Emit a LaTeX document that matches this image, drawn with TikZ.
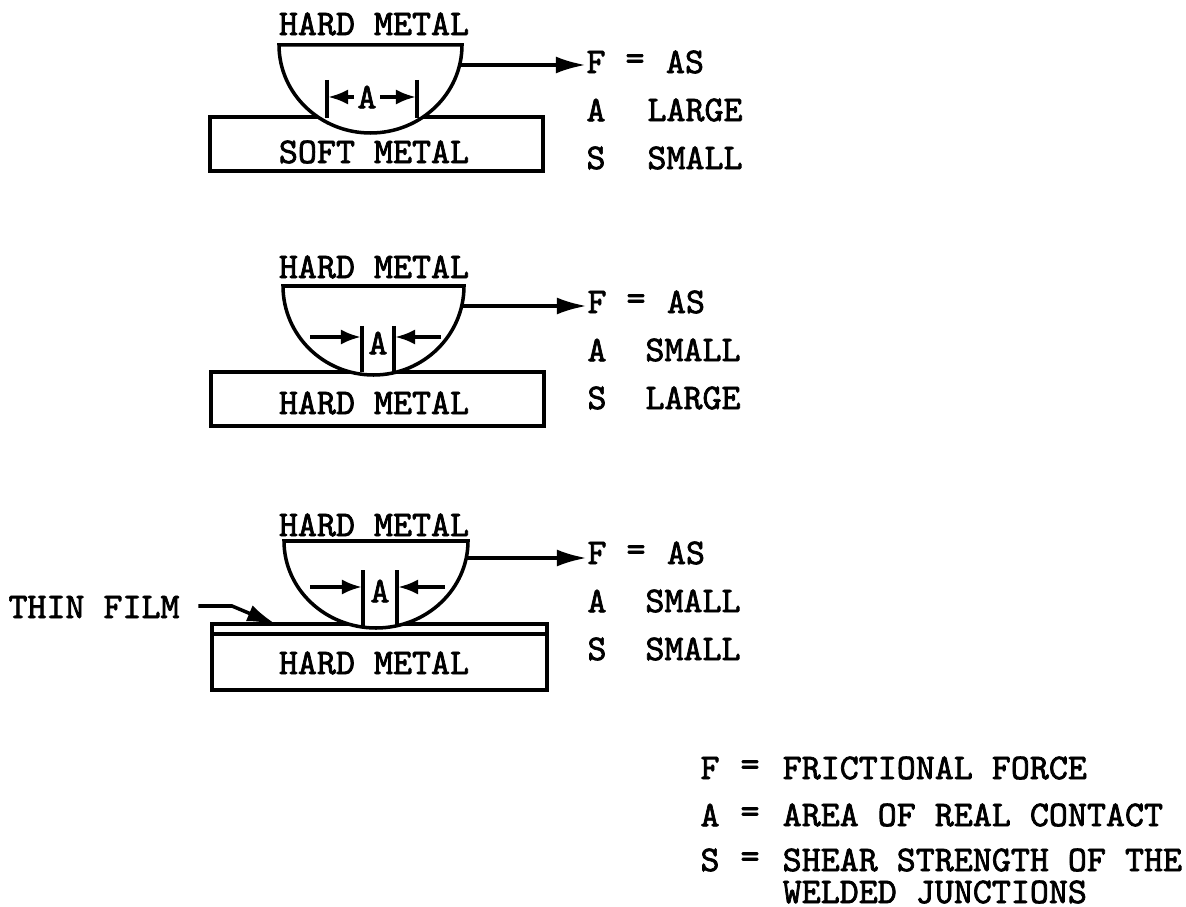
\documentclass[tikz,border=0pt]{standalone}
\usepackage{fontspec}
\usetikzlibrary{arrows.meta}
\newfontfamily\typefont[FakeBold=2]{Latin Modern Mono}
\tikzset{
	lbl/.style={font=\fontsize{10.3}{12}\typefont, inner sep=0pt, text=black},
	metal/.style={line width=1pt, black},
	bigtip/.style={line width=1pt, -{Latex[length=0.3cm,width=0.17cm]}},
	smalltip/.style={line width=1pt, -{Latex[length=0.2cm,width=0.15cm]}}
}
\begin{document}
\begin{tikzpicture}[x=0.01cm,y=-0.01cm]
		\useasboundingbox (0,0) rectangle (1186,907);

		\draw [metal] (210,117) rectangle (543,171);
		\draw [metal, fill=white] (279,45) -- (462,45) arc [start angle=0, end angle=180, x radius=91.5, y radius=88] -- cycle;
		\draw [metal] (327,80) -- (327,118);
		\draw [metal] (417,80) -- (417,118);
		\node [lbl] (hardone) at (374,24) {HARD METAL};
		\node [lbl] (softone) at (374,152) {SOFT METAL};
		\node [lbl] (aone) at (367,97) {A};
		\coordinate (aoneleft) at (328,97);
		\coordinate (aoneright) at (416,97);
		\draw [smalltip] (aone.west) ++(-3,0) -- (aoneleft);
		\draw [smalltip] (aone.east) ++(3,0) -- (aoneright);
		\coordinate (cupone) at (460,65);
		\node [lbl] (fone) at (596,62) {F};
		\node [lbl] (eqone) at (635,62) {=};
		\node [lbl] (asone) at (685,62) {AS};
		\node [lbl] (atextone) at (596,110) {A};
		\node [lbl] (largeone) at (695,110) {LARGE};
		\node [lbl] (stextone) at (596,158) {S};
		\node [lbl] (smallone) at (695,158) {SMALL};
		\draw [bigtip] (cupone) -- (cupone -| fone.west);

		\draw [metal] (211,372) rectangle (544,426);
		\draw [metal, fill=white] (283,286) -- (464,286) arc [start angle=0, end angle=180, x radius=90.5, y radius=89] -- cycle;
		\draw [metal] (362,326) -- (362,372);
		\draw [metal] (394,326) -- (394,372);
		\node [lbl] (hardtwo) at (374,267) {HARD METAL};
		\node [lbl] (softtwo) at (374,403) {HARD METAL};
		\node [lbl] (atwo) at (378,343) {A};
		\coordinate (atwoleft) at (310,337);
		\coordinate (atwoleftend) at (361,337);
		\coordinate (atworight) at (441,337);
		\coordinate (atworightend) at (395,337);
		\draw [smalltip] (atwoleft) -- (atwoleftend);
		\draw [smalltip] (atworight) -- (atworightend);
		\coordinate (cuptwo) at (462,306);
		\node [lbl] (ftwo) at (597,302) {F};
		\node [lbl] (eqtwo) at (636,302) {=};
		\node [lbl] (astwo) at (686,302) {AS};
		\node [lbl] (atexttwo) at (597,350) {A};
		\node [lbl] (largetwo) at (693,350) {SMALL};
		\node [lbl] (stexttwo) at (597,398) {S};
		\node [lbl] (smalltwo) at (693,398) {LARGE};
		\draw [bigtip] (cuptwo) -- (cuptwo -| ftwo.west);

		\draw [metal] (212,624) rectangle (547,690);
		\draw [metal] (212,634) -- (547,634);
		\draw [metal, fill=white] (284,541) -- (468,541) arc [start angle=0, end angle=180, x radius=92, y radius=87] -- cycle;
		\draw [metal] (363,570) -- (363,626);
		\draw [metal] (397,570) -- (397,626);
		\node [lbl] (hardthree) at (374,525) {HARD METAL};
		\node [lbl] (softthree) at (374,663) {HARD METAL};
		\node [lbl] (athree) at (380,591) {A};
		\coordinate (athreeleft) at (310,587);
		\coordinate (athreeleftend) at (362,587);
		\coordinate (athreeright) at (445,587);
		\coordinate (athreerightend) at (398,587);
		\draw [smalltip] (athreeleft) -- (athreeleftend);
		\draw [smalltip] (athreeright) -- (athreerightend);
		\coordinate (cupthree) at (465,558);
		\node [lbl] (fthree) at (597,553) {F};
		\node [lbl] (eqthree) at (636,553) {=};
		\node [lbl] (asthree) at (686,553) {AS};
		\node [lbl] (atextthree) at (597,601) {A};
		\node [lbl] (largethree) at (693,601) {SMALL};
		\node [lbl] (stextthree) at (597,649) {S};
		\node [lbl] (smallthree) at (693,649) {SMALL};
		\draw [bigtip] (cupthree) -- (cupthree -| fthree.west);

		\node [lbl] (film) at (94,607) {THIN FILM};
		\coordinate (filmbend) at (232,606);
		\coordinate (filmend) at (277,625);
		\draw [bigtip] (film.east) ++(18,-1) -- (filmbend) -- (filmend);

		\node [lbl] (keyf) at (710,768) {F};
		\node [lbl] (keyfeq) at (750,768) {=};
		\node [lbl, anchor=west] (keyftext) at (782,768) {FRICTIONAL FORCE};
		\node [lbl] (keya) at (710,815) {A};
		\node [lbl] (keyaeq) at (750,815) {=};
		\node [lbl, anchor=west] (keyatext) at (782,815) {AREA OF REAL CONTACT};
		\node [lbl] (keys) at (710,860) {S};
		\node [lbl] (keyseq) at (750,860) {=};
		\node [lbl, anchor=west] (keystext) at (782,860) {SHEAR STRENGTH OF THE};
		\node [lbl, anchor=west] (keyweld) at (782,892) {WELDED JUNCTIONS};

		\end{tikzpicture}
\end{document}
